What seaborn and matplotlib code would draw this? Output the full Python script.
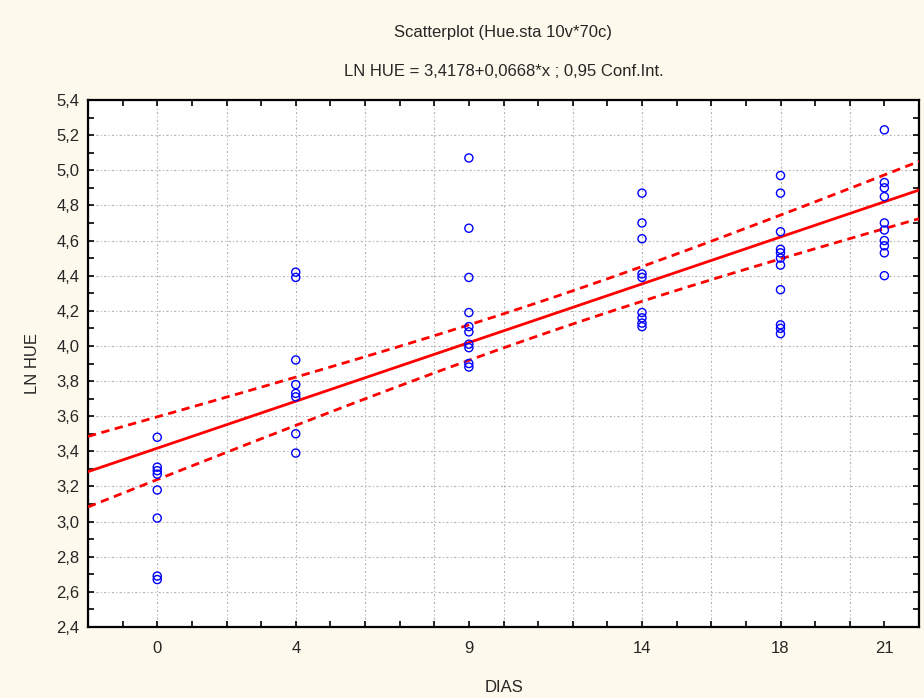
import numpy as np
import pandas as pd
import matplotlib
matplotlib.use("Agg")
import matplotlib.pyplot as plt
import seaborn as sns
from matplotlib.ticker import MultipleLocator, FixedLocator, FuncFormatter

# ---- data ----
dias_0 = [3.48, 3.31, 3.29, 3.27, 3.18, 3.02, 2.69, 2.67]
dias_4 = [4.42, 4.39, 3.92, 3.78, 3.73, 3.71, 3.50, 3.39]
dias_9 = [5.07, 4.67, 4.39, 4.19, 4.11, 4.08, 4.01, 3.99, 3.90, 3.88]
dias_14 = [4.87, 4.70, 4.61, 4.41, 4.39, 4.19, 4.16, 4.13, 4.11]
dias_18 = [4.97, 4.87, 4.65, 4.55, 4.53, 4.50, 4.46, 4.32, 4.12, 4.10, 4.07]
dias_21 = [5.23, 4.93, 4.90, 4.85, 4.70, 4.66, 4.60, 4.57, 4.53, 4.40]
days = [0, 4, 9, 14, 18, 21]
x_tick_labels = ["0", "4", "9", "14", "18", "21"]
y_ticks = [2.4, 2.6, 2.8, 3.0, 3.2, 3.4, 3.6, 3.8, 4.0, 4.2, 4.4, 4.6, 4.8, 5.0, 5.2, 5.4]
INTERCEPT = 3.4178   # from the stated equation
SLOPE = 0.0668
T_CRIT = 2.005  # 0.95 two-sided

title1 = "Scatterplot (Hue.sta 10v*70c)"
title2 = "LN HUE = 3,4178+0,0668*x ; 0,95 Conf.Int."

groups = [dias_0, dias_4, dias_9, dias_14, dias_18, dias_21]
df = pd.DataFrame({
    "DIAS": np.concatenate([[d] * len(g) for d, g in zip(days, groups)]).astype(float),
    "LN HUE": np.concatenate(groups),
})

# regression line + 95% confidence band of the mean
x = df["DIAS"].to_numpy()
y = df["LN HUE"].to_numpy()
n = len(x)
resid = y - (INTERCEPT + SLOPE * x)
s = np.sqrt(np.sum(resid ** 2) / (n - 2))
sxx = np.sum((x - x.mean()) ** 2)
xlim = (-2, 22)
xs = np.linspace(xlim[0], xlim[1], 200)
yfit = INTERCEPT + SLOPE * xs
half = T_CRIT * s * np.sqrt(1.0 / n + (xs - x.mean()) ** 2 / sxx)
fit = pd.DataFrame({"x": xs, "fit": yfit, "lo": yfit - half, "hi": yfit + half})

sns.set_theme(style="white")
plt.rcParams["font.family"] = ["Liberation Sans", "DejaVu Sans"]

bg = "#FDF9EC"
fig = plt.figure(figsize=(9.24, 6.98), dpi=100, facecolor=bg)
ax = fig.add_axes([88 / 924, 1 - 627 / 698, (919 - 88) / 924, (627 - 100) / 698])
ax.set_facecolor("white")

# grid
for gx in np.arange(-2, 23, 2):
    ax.axvline(gx, color="#B4B4B4", lw=0.8, ls=(0, (2, 2, 1, 2)), zorder=0)
for gy in y_ticks:
    ax.axhline(gy, color="#B4B4B4", lw=0.8, ls=(0, (2, 2, 1, 2)), zorder=0)

sns.lineplot(data=fit, x="x", y="fit", ax=ax, color="#FF0000", lw=2.0, zorder=3)
sns.lineplot(data=fit, x="x", y="hi", ax=ax, color="#FF0000", lw=2.0, zorder=3)
sns.lineplot(data=fit, x="x", y="lo", ax=ax, color="#FF0000", lw=2.0, zorder=3)
for ln in ax.get_lines()[-2:]:
    ln.set_linestyle((0, (3, 2)))

sns.scatterplot(data=df, x="DIAS", y="LN HUE", ax=ax, marker="o", s=34,
                facecolor="none", edgecolor="#0000FF", linewidth=1.0, zorder=4)

ax.set_xlim(*xlim)
ax.set_ylim(2.4, 5.4)
ax.xaxis.set_major_locator(FixedLocator(days))
ax.set_xticklabels(x_tick_labels)
ax.xaxis.set_minor_locator(MultipleLocator(1))
ax.yaxis.set_major_locator(FixedLocator(y_ticks))
ax.yaxis.set_minor_locator(MultipleLocator(0.1))
ax.yaxis.set_major_formatter(FuncFormatter(lambda v, p: f"{v:.1f}".replace(".", ",")))
ax.tick_params(which="both", direction="in", top=True, right=True, bottom=True, left=True,
               length=4, width=1.2, color="black")
ax.tick_params(axis="y", which="major", labelsize=12, pad=6)
ax.tick_params(axis="x", which="major", labelsize=12, pad=10)
for sp in ax.spines.values():
    sp.set_visible(True)
    sp.set_color("black")
    sp.set_linewidth(1.6)

ax.set_xlabel("DIAS", fontsize=12, labelpad=17)
ax.set_ylabel("LN HUE", fontsize=12, labelpad=12)

fig.text(0.5 * (88 + 919) / 924, 1 - 33 / 698, title1, ha="center", va="center", fontsize=12)
fig.text(0.5 * (88 + 919) / 924, 1 - 72 / 698, title2, ha="center", va="center", fontsize=12)

fig.savefig("out.png", dpi=100, facecolor=bg)
